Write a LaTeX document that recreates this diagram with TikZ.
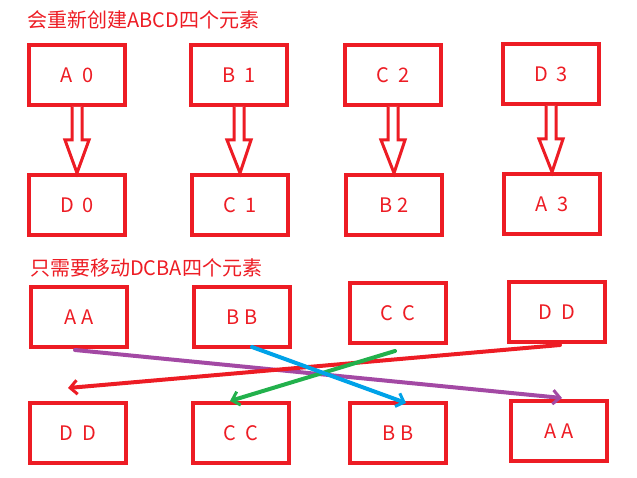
\documentclass[tikz,border=0pt]{standalone}
\usepackage{fontspec}
\setmainfont{Noto Sans CJK SC}
\usetikzlibrary{arrows.meta}
\definecolor{r}{RGB}{237,28,36}
\definecolor{pu}{RGB}{163,73,164}
\definecolor{bl}{RGB}{0,162,232}
\definecolor{gr}{RGB}{34,177,76}
\begin{document}
\begin{tikzpicture}[x=1pt,y=-1pt,
  bx/.style={draw=r,line width=4pt,minimum width=96pt,minimum height=60pt,text=r,font=\fontsize{20}{20}\selectfont,inner sep=0pt},
  ttl/.style={text=r,anchor=west,font=\fontsize{20}{20}\selectfont,inner sep=0pt},
  hol/.style={draw=r,line width=3pt,fill=white,line join=miter},
  mv/.style={line width=4pt,-{Straight Barb[length=7pt,width=14pt,line width=3pt]},line cap=round}]
\useasboundingbox (0,0) rectangle (637,478);
\node[ttl] (t1) at (27,20) {会重新创建ABCD四个元素};
\node[bx] (a0) at (77,75) {A\ \ 0};
\node[bx] (b1) at (239,75) {B\ \ 1};
\node[bx] (c2) at (393,75) {C\ \ 2};
\node[bx] (d3) at (551,74) {D\ \ 3};
\node[bx] (d0) at (77,205) {D\ \ 0};
\node[bx] (c1) at (240,205) {C\ \ 1};
\node[bx] (b2) at (394,205) {B\ 2};
\node[bx] (a3) at (552,204) {A\ \ 3};
\foreach \n/\m in {a0/d0,b1/c1,c2/b2,d3/a3}{
  \draw[hol] ([xshift=-5pt]\n.south) -- ([xshift=-5pt,yshift=-33pt]\n.south) -- ([xshift=-12pt,yshift=-33pt]\n.south) -- (\m.north) -- ([xshift=12pt,yshift=-33pt]\n.south) -- ([xshift=5pt,yshift=-33pt]\n.south) -- ([xshift=5pt]\n.south);
}
\node[ttl] (t2) at (30,268) {只需要移动DCBA四个元素};
\node[bx] (aa) at (79,317) {A A};
\node[bx] (bb) at (242,317) {B B};
\node[bx] (cc) at (398,313) {C\ \ C};
\node[bx] (dd) at (557,312) {D\ \ D};
\node[bx] (dd2) at (78,433) {D\ \ D};
\node[bx] (cc2) at (241,433) {C\ \ C};
\node[bx] (bb2) at (398,433) {B B};
\node[bx] (aa2) at (559,431) {A A};
\coordinate (p1) at (75,350); \coordinate (p2) at (562,398);
\coordinate (b1s) at (252,347); \coordinate (b2e) at (406,403);
\coordinate (g1) at (395,351); \coordinate (g2) at (230,401);
\coordinate (r1) at (560,345); \coordinate (r2) at (68,388);
\draw[mv,draw=pu] (p1) -- (p2);
\draw[mv,draw=r] (r1) -- (r2);
\draw[mv,draw=gr] (g1) -- (g2);
\draw[mv,draw=bl] (b1s) -- (b2e);
\end{tikzpicture}
\end{document}
